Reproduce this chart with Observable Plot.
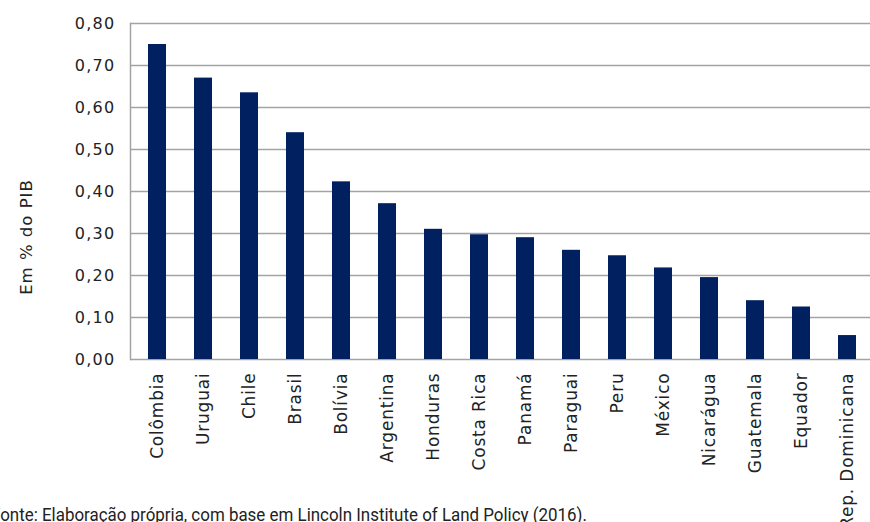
<!DOCTYPE html>
<html>
<head>
<meta charset="utf-8">
<script src="https://cdn.jsdelivr.net/npm/d3@7"></script>
<script src="https://cdn.jsdelivr.net/npm/@observablehq/plot@0.6"></script>
<style>
  html, body { margin: 0; padding: 0; background: #fff; overflow: hidden; }
  #wrap { position: relative; width: 870px; height: 522px; }
  #caption { position: absolute; left: -9px; top: 506px; font-family: "Roboto", sans-serif; font-size: 18px; line-height: 1; color: #222; white-space: nowrap; transform: scaleX(0.94); transform-origin: left top; }
  #ytitle { position: absolute; left: 26px; top: 237px; transform: translate(-50%, -50%) rotate(-90deg); font-family: "DejaVu Sans", sans-serif; font-size: 16.5px; letter-spacing: 1px; color: #222; white-space: nowrap; }
  svg g[aria-label="y-axis tick label"] text { letter-spacing: 1.3px; }
  svg g[aria-label="x-axis tick label"] text { letter-spacing: 0.8px; }
</style>
</head>
<body>
<div id="wrap"><div id="ytitle"></div><div id="caption"></div></div>
<script>
const countries = ["Colômbia","Uruguai","Chile","Brasil","Bolívia","Argentina","Honduras","Costa Rica","Panamá","Paraguai","Peru","México","Nicarágua","Guatemala","Equador","Rep. Dominicana"];
const values = [0.75,0.67,0.635,0.54,0.423,0.371,0.31,0.297,0.29,0.26,0.247,0.218,0.195,0.14,0.125,0.057];
const yTicks = [0,0.1,0.2,0.3,0.4,0.5,0.6,0.7,0.8];
const yTitle = "Em % do PIB";
const caption = "Fonte: Elaboração própria, com base em Lincoln Institute of Land Policy (2016).";

document.getElementById("ytitle").textContent = yTitle;
document.getElementById("caption").textContent = caption;

const data = countries.map((c, i) => ({country: c, value: values[i]}));
const fmt = d3.formatLocale({decimal: ",", thousands: "."}).format(".2f");

const chart = Plot.plot({
  width: 870,
  height: 522,
  marginTop: 23,
  marginBottom: 163,
  marginLeft: 130,
  marginRight: 0,
  style: {fontFamily: "DejaVu Sans, sans-serif", fontSize: "16px", color: "#222", background: "transparent"},
  x: {domain: countries, range: [130, 875], paddingInner: 0.6, paddingOuter: 0.28},
  y: {domain: [0, 0.8]},
  marks: [
    Plot.ruleY(yTicks, {stroke: "#a3a3a3", strokeWidth: 1.5}),
    Plot.frame({anchor: "left", stroke: "#a3a3a3", strokeWidth: 1.5}),
    Plot.barY(data, {x: "country", y: "value", fill: "#012060"}),
    Plot.axisY({ticks: yTicks, tickFormat: fmt, tickSize: 0, tickPadding: 15, label: null, fontSize: 16}),
    Plot.axisX({tickRotate: -90, tickSize: 0, tickPadding: 13, label: null, fontSize: 17})
  ]
});
document.getElementById("wrap").prepend(chart);
</script>
</body>
</html>
